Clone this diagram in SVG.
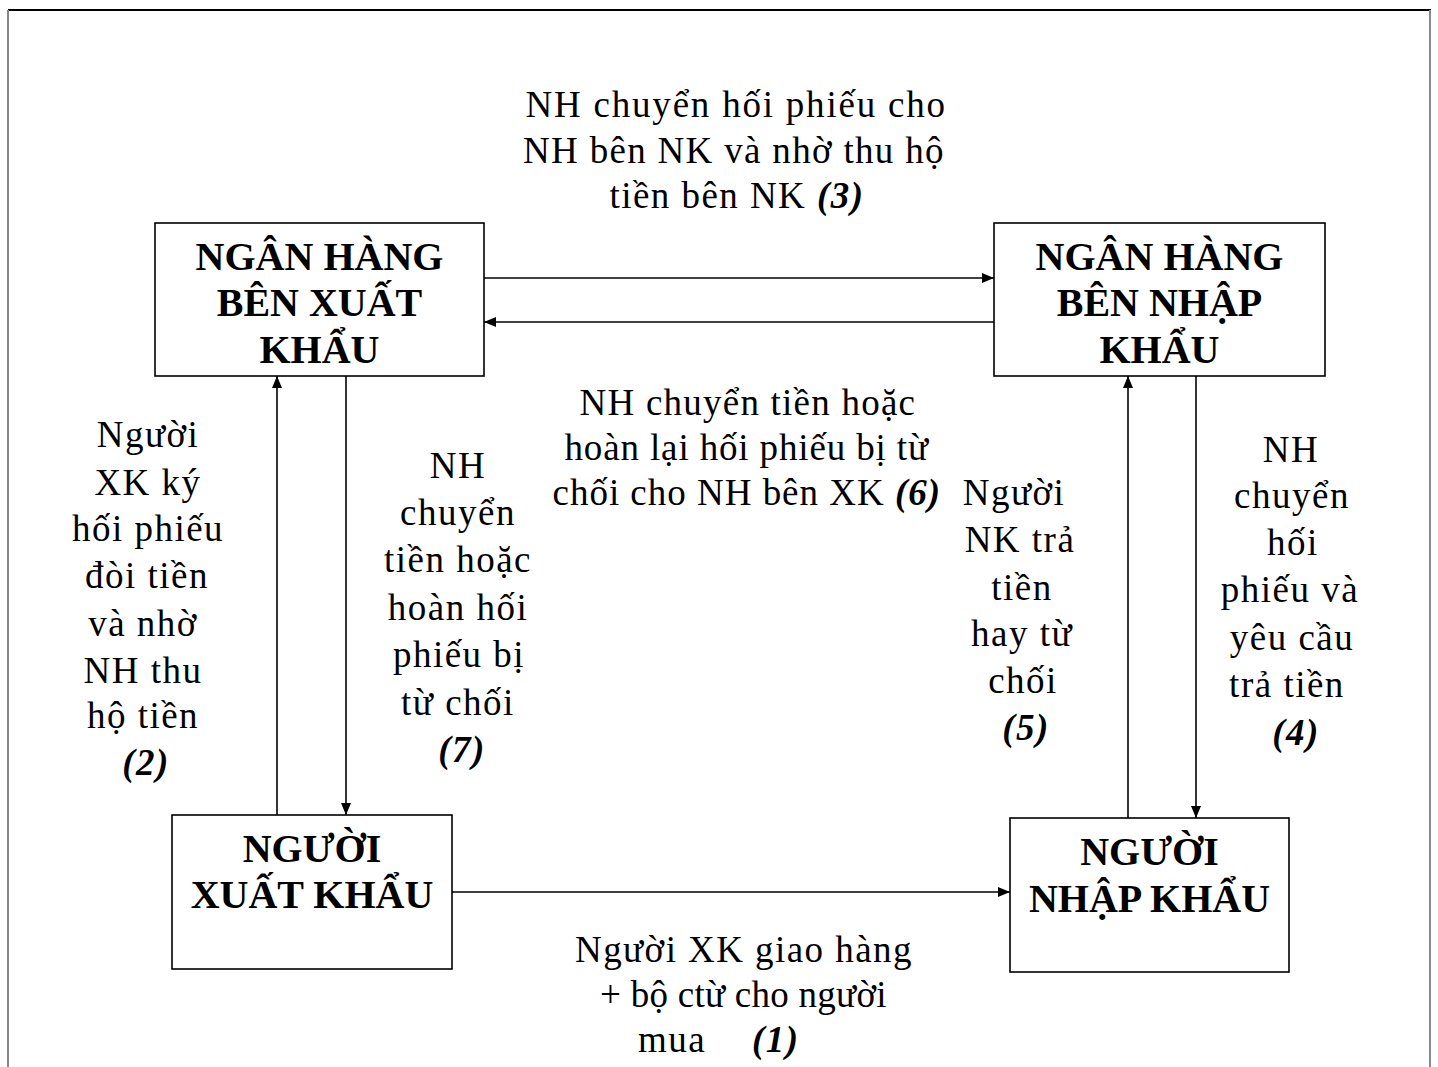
<svg xmlns="http://www.w3.org/2000/svg" width="1438" height="1067" viewBox="0 0 1438 1067">
<style>
.box{fill:#fff;stroke:#000;stroke-width:1.6}
.nt{font-family:"Liberation Serif","Times New Roman",serif;font-weight:bold;font-size:40px;text-anchor:middle;fill:#000}
.lt{font-family:"Liberation Serif","Times New Roman",serif;font-size:37px;text-anchor:middle;fill:#000;letter-spacing:1.5px}
.bi{font-weight:bold;font-style:italic}
.cn{stroke:#000;stroke-width:1.6;fill:none;marker-end:url(#ah)}
</style>
<defs>
<marker id="ah" viewBox="0 0 12 10" refX="12" refY="5" markerWidth="12" markerHeight="10" markerUnits="userSpaceOnUse" orient="auto">
<path d="M0,0 L12,5 L0,10 Z" fill="#000"/>
</marker>
</defs>
<rect width="1438" height="1067" fill="#fff"/>
<g id="frame">
<line x1="8" y1="10" x2="1431" y2="10" stroke="#000" stroke-width="2"/>
<line x1="8" y1="10" x2="8" y2="1067" stroke="#888" stroke-width="2"/>
<line x1="1430" y1="10" x2="1430" y2="1067" stroke="#888" stroke-width="2"/>
</g>
<g id="connectors">
<line class="cn" x1="484" y1="278" x2="994" y2="278"/>
<line class="cn" x1="994" y1="322" x2="484" y2="322"/>
<line class="cn" x1="277" y1="815" x2="277" y2="376"/>
<line class="cn" x1="346" y1="376" x2="346" y2="815"/>
<line class="cn" x1="1128" y1="818" x2="1128" y2="376"/>
<line class="cn" x1="1196" y1="376" x2="1196" y2="818"/>
<line class="cn" x1="452" y1="892" x2="1010" y2="892"/>
</g>
<g id="nh-xuat-khau">
<rect class="box" x="155" y="223" width="329" height="153"/>
<text class="nt" x="319.5" y="270">NGÂN HÀNG</text>
<text class="nt" x="319.5" y="316">BÊN XUẤT</text>
<text class="nt" x="319.5" y="363">KHẨU</text>
</g>
<g id="nh-nhap-khau">
<rect class="box" x="994" y="223" width="331" height="153"/>
<text class="nt" x="1159.5" y="270">NGÂN HÀNG</text>
<text class="nt" x="1159.5" y="316">BÊN NHẬP</text>
<text class="nt" x="1159.5" y="363">KHẨU</text>
</g>
<g id="nguoi-xuat-khau">
<rect class="box" x="172" y="815" width="280" height="154"/>
<text class="nt" x="312" y="862">NGƯỜI</text>
<text class="nt" x="312" y="908">XUẤT KHẨU</text>
</g>
<g id="nguoi-nhap-khau">
<rect class="box" x="1010" y="818" width="279" height="154"/>
<text class="nt" x="1149.5" y="865">NGƯỜI</text>
<text class="nt" x="1149.5" y="912">NHẬP KHẨU</text>
</g>
<g id="labels">
<g id="label-3">
<text class="lt" x="736" y="117" textLength="421" lengthAdjust="spacing">NH chuyển hối phiếu cho</text>
<text class="lt" x="734" y="163" textLength="422" lengthAdjust="spacing">NH bên NK và nhờ thu hộ</text>
<text class="lt" x="737" y="208" textLength="255" lengthAdjust="spacing">tiền bên NK <tspan class="bi">(3)</tspan></text>
</g>
<g id="label-6">
<text class="lt" x="748" y="415" textLength="337" lengthAdjust="spacing">NH chuyển tiền hoặc</text>
<text class="lt" x="747" y="460" textLength="365" lengthAdjust="spacing">hoàn lại hối phiếu bị từ</text>
<text class="lt" x="747" y="505" textLength="389" lengthAdjust="spacing">chối cho NH bên XK <tspan class="bi">(6)</tspan></text>
</g>
<g id="label-1">
<text class="lt" x="744" y="962" textLength="338" lengthAdjust="spacing">Người XK giao hàng</text>
<text class="lt" x="744" y="1007" textLength="288" lengthAdjust="spacing">+ bộ ctừ cho người</text>
<text class="lt" style="text-anchor:start" x="638" y="1052">mua <tspan class="bi" x="752">(1)</tspan></text>
</g>
<g id="label-2">
<text class="lt" x="148" y="447">Người</text>
<text class="lt" x="148" y="495">XK ký</text>
<text class="lt" x="148" y="541">hối phiếu</text>
<text class="lt" x="147" y="588">đòi tiền</text>
<text class="lt" x="143" y="636">và nhờ</text>
<text class="lt" x="143" y="683">NH thu</text>
<text class="lt" x="143" y="728">hộ tiền</text>
<text class="lt bi" x="146" y="775">(2)</text>
</g>
<g id="label-7">
<text class="lt" x="458" y="478">NH</text>
<text class="lt" x="458" y="525">chuyển</text>
<text class="lt" x="458" y="572">tiền hoặc</text>
<text class="lt" x="458" y="620">hoàn hối</text>
<text class="lt" x="459" y="667">phiếu bị</text>
<text class="lt" x="458" y="715">từ chối</text>
<text class="lt bi" x="462" y="762">(7)</text>
</g>
<g id="label-5">
<text class="lt" x="1014" y="505">Người</text>
<text class="lt" x="1020" y="552">NK trả</text>
<text class="lt" x="1022" y="600">tiền</text>
<text class="lt" x="1022" y="646">hay từ</text>
<text class="lt" x="1023" y="693">chối</text>
<text class="lt bi" x="1026" y="740">(5)</text>
</g>
<g id="label-4">
<text class="lt" x="1291" y="462">NH</text>
<text class="lt" x="1292" y="508">chuyển</text>
<text class="lt" x="1293" y="555">hối</text>
<text class="lt" x="1290" y="602">phiếu và</text>
<text class="lt" x="1292" y="650">yêu cầu</text>
<text class="lt" x="1287" y="697">trả tiền</text>
<text class="lt bi" x="1296" y="745">(4)</text>
</g>
</g>
</svg>
